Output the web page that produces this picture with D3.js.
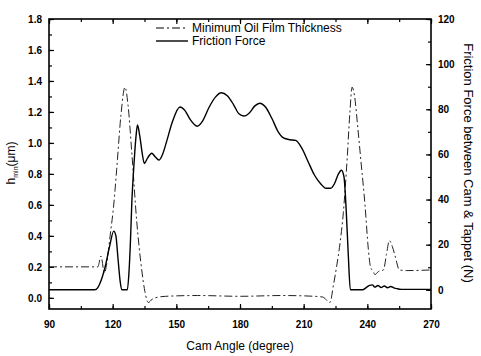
<!DOCTYPE html>
<html>
	<head>
		<script src="https://cdnjs.cloudflare.com/ajax/libs/d3/7.8.5/d3.min.js"></script>
		<style type="text/css">
			body {
				margin: 0;
				background: #fff;
			}
			svg {
				font-family: 'Liberation Sans', Arial, sans-serif;
			}
			.tick-label {
				font-size: 10px;
				font-weight: bold;
			}
			.title {
				font-size: 12px;
			}
		</style>
	</head>
	<body>
		<script type="application/javascript">
			// [cam angle (deg), h_min (um)]
			var filmThickness = [
				[90, 0.2], [113, 0.2], [114.5, 0.27], [116.1, 0.16], [117.3, 0.23], [118.7, 0.39],
				[120.5, 0.6], [121.9, 0.83], [123.9, 1.18], [125.8, 1.36], [127.2, 1.25], [129, 0.94],
				[131.3, 0.5], [133.7, 0.18], [135.2, 0.04], [136.8, -0.03], [138.5, -0.01], [140, 0.0],
				[145, 0.01], [160, 0.015], [180, 0.01], [200, 0.015], [215, 0.01], [219, 0.005],
				[222.4, -0.03], [224, 0.08], [225.5, 0.2], [227.1, 0.35], [228.7, 0.55], [230.5, 0.9],
				[231.8, 1.2], [232.8, 1.36], [234, 1.3], [235.5, 1.1], [237, 0.88], [238.9, 0.6],
				[240.5, 0.31], [241.5, 0.2], [242.8, 0.17], [243.6, 0.15], [245.2, 0.17], [247.6, 0.18],
				[249, 0.28], [250.4, 0.37], [251.8, 0.33], [253.1, 0.27], [255.1, 0.18], [258.6, 0.176],
				[270, 0.18]
			];

			// [cam angle (deg), friction force (N)]
			var frictionForce = [
				[90, 0], [111.5, 0], [113, 1], [114.5, 4], [116.4, 10], [118.5, 19], [120.5, 26],
				[121.5, 24], [122.5, 14], [123.5, 4], [124.3, 0], [126.9, 0], [127.7, 8], [128.4, 22],
				[129, 38], [130, 55], [131, 68], [131.7, 73], [132.8, 68], [134, 60], [134.9, 56],
				[136.5, 58.5], [138.4, 60.5], [140, 59], [141.8, 57.5], [143.5, 60], [145.5, 66],
				[148, 74], [151.7, 81], [154, 79.5], [156.5, 75.5], [159.8, 72.5], [162.5, 75],
				[165.5, 81], [168.5, 85.5], [171.2, 87.3], [174, 86], [177, 82], [179.5, 78],
				[181.8, 77], [184.5, 78.5], [187, 81.5], [189.3, 82.7], [192, 81], [195, 76],
				[198, 70], [200.5, 67.3], [203.5, 66.5], [206.2, 66.2], [209, 63], [212, 57],
				[215, 51], [218, 47], [220.5, 45], [222.7, 45], [224.5, 47], [226.2, 51], [227.8, 53],
				[229, 50], [230, 36], [231, 16], [232, 0], [237.7, 0], [239.5, 1], [241, 2],
				[242.4, 2.2], [243.5, 1.2], [245, 1.9], [246.5, 1], [248, 1.7], [249.5, 0.9],
				[251, 1.5], [252.5, 0.9], [254, 0.5], [256, 0.2], [270, 0.2]
			];

			var xTicks = [90, 120, 150, 180, 210, 240, 270];
			var leftTicks = [0.0, 0.2, 0.4, 0.6, 0.8, 1.0, 1.2, 1.4, 1.6, 1.8];
			var rightTicks = [0, 20, 40, 60, 80, 100, 120];
			var legendLabels = ["Minimum Oil Film Thickness", "Friction Force"];

			var width = 481, height = 356;
			var mLeft = 49, mRight = 431, mTop = 19, mBottom = 309;

			var svg = d3.select("body").append("svg")
				.attr("width", width)
				.attr("height", height);

			var x = d3.scaleLinear().domain([90, 270]).range([mLeft, mRight]);
			var yLeft = d3.scaleLinear().domain([-0.072, 1.8]).range([mBottom, mTop]);
			var yRight = d3.scaleLinear().domain([-8.5, 120]).range([mBottom, mTop]);

			// ticks point inward on every side
			function inward(axis, size, pad) {
				return axis.tickSizeInner(-size).tickSizeOuter(0).tickPadding(pad || 7);
			}

			var xMinor = d3.range(90, 271, 15);
			var leftMinor = d3.range(0, 1.81, 0.1);
			var rightMinor = d3.range(0, 121, 10);

			// minor ticks first
			svg.append("g")
				.attr("transform", "translate(0," + mBottom + ")")
				.call(inward(d3.axisBottom(x).tickValues(xMinor).tickFormat(""), 3));
			svg.append("g")
				.attr("transform", "translate(0," + mTop + ")")
				.call(inward(d3.axisTop(x).tickValues(xMinor).tickFormat(""), 3));
			svg.append("g")
				.attr("transform", "translate(" + mLeft + ",0)")
				.call(inward(d3.axisLeft(yLeft).tickValues(leftMinor).tickFormat(""), 3));
			svg.append("g")
				.attr("transform", "translate(" + mRight + ",0)")
				.call(inward(d3.axisRight(yRight).tickValues(rightMinor).tickFormat(""), 3));

			// major ticks with labels
			svg.append("g")
				.attr("transform", "translate(0," + mBottom + ")")
				.call(inward(d3.axisBottom(x).tickValues(xTicks).tickFormat(d3.format("d")), 5, 12));
			svg.append("g")
				.attr("transform", "translate(0," + mTop + ")")
				.call(inward(d3.axisTop(x).tickValues(xTicks).tickFormat(""), 5));
			svg.append("g")
				.attr("transform", "translate(" + mLeft + ",0)")
				.call(inward(d3.axisLeft(yLeft).tickValues(leftTicks).tickFormat(d3.format(".1f")), 5));
			svg.append("g")
				.attr("transform", "translate(" + mRight + ",0)")
				.call(inward(d3.axisRight(yRight).tickValues(rightTicks).tickFormat(d3.format("d")), 5));

			svg.selectAll(".tick text")
				.attr("class", "tick-label")
				.attr("fill", "#000");
			svg.selectAll(".tick line")
				.attr("stroke", "#000")
				.attr("stroke-width", 1.2);
			svg.selectAll(".domain").remove();

			// frame
			svg.append("rect")
				.attr("x", mLeft)
				.attr("y", mTop)
				.attr("width", mRight - mLeft)
				.attr("height", mBottom - mTop)
				.attr("fill", "none")
				.attr("stroke", "#000")
				.attr("stroke-width", 1.6);

			var filmLine = d3.line()
				.x(d => x(d[0]))
				.y(d => yLeft(d[1]))
				.curve(d3.curveMonotoneX);
			var forceLine = d3.line()
				.x(d => x(d[0]))
				.y(d => yRight(d[1]))
				.curve(d3.curveMonotoneX);

			svg.append("path")
				.datum(filmThickness)
				.attr("d", filmLine)
				.attr("fill", "none")
				.attr("stroke", "#222")
				.attr("stroke-width", 1)
				.attr("stroke-dasharray", "8,3,2,3");

			svg.append("path")
				.datum(frictionForce)
				.attr("d", forceLine)
				.attr("fill", "none")
				.attr("stroke", "#000")
				.attr("stroke-width", 1.4);

			// legend
			var legend = svg.append("g").attr("class", "legend");
			legendLabels.forEach(function(label, i) {
				var ly = 28 + i * 13;
				legend.append("line")
					.attr("x1", 156).attr("x2", 188)
					.attr("y1", ly).attr("y2", ly)
					.attr("stroke", "#000")
					.attr("stroke-width", i == 0 ? 1 : 1.4)
					.attr("stroke-dasharray", i == 0 ? "8,3,2,3" : null);
				legend.append("text")
					.attr("class", "title")
					.attr("x", 192)
					.attr("y", ly + 4)
					.text(label);
			});

			// axis titles
			svg.append("text")
				.attr("class", "title")
				.attr("x", (mLeft + mRight) / 2)
				.attr("y", 350)
				.attr("text-anchor", "middle")
				.text("Cam Angle (degree)");

			var yt = svg.append("text")
				.attr("class", "title")
				.attr("transform", "translate(15,163) rotate(-90)")
				.attr("text-anchor", "middle");
			yt.append("tspan").text("h");
			yt.append("tspan").attr("font-size", "7px").attr("dy", 3).text("min");
			yt.append("tspan").attr("dy", -3).text("(\u03bcm)");

			svg.append("text")
				.attr("class", "title")
				.attr("transform", "translate(464,163) rotate(90)")
				.attr("text-anchor", "middle")
				.style("font-size", "13px")
				.text("Friction Force between Cam & Tappet (N)");
		</script>
	</body>
</html>
